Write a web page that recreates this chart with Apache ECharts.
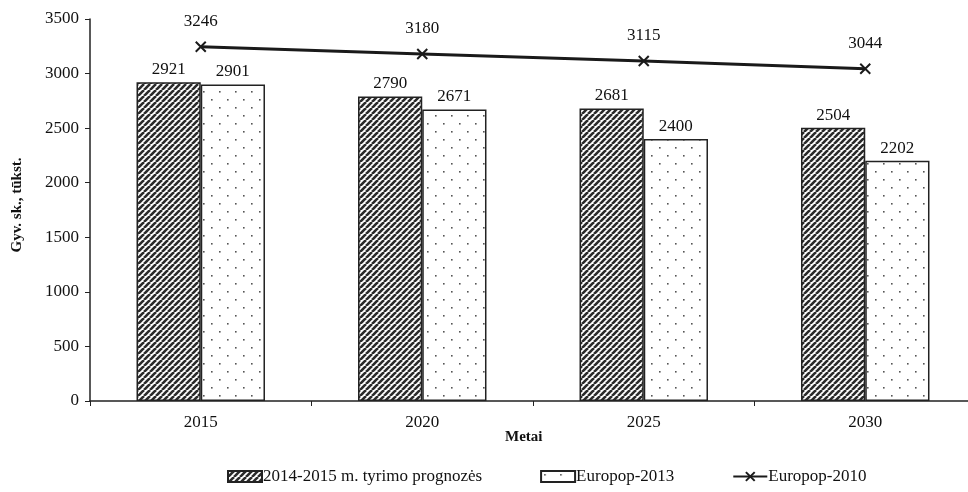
<!DOCTYPE html>
<html><head><meta charset="utf-8">
<script src="https://cdn.jsdelivr.net/npm/echarts@6/dist/echarts.min.js"></script>
<style>html,body{margin:0;padding:0;background:#fff}#c{width:968px;height:492px}</style>
</head><body><div id="c"></div>
<script>
const categories = ['2015', '2020', '2025', '2030'];
const survey = [2921, 2790, 2681, 2504];
const europop2013 = [2901, 2671, 2400, 2202];
const europop2010 = [3246, 3180, 3115, 3044];
const yTicks = [0, 500, 1000, 1500, 2000, 2500, 3000, 3500];

function hatch() {
  const c = document.createElement('canvas');
  c.width = 6; c.height = 6;
  const g = c.getContext('2d');
  g.fillStyle = '#fff'; g.fillRect(0, 0, 6, 6);
  g.strokeStyle = '#2a2a2a'; g.lineWidth = 2.6;
  for (let k = -6; k <= 12; k += 6) {
    g.beginPath(); g.moveTo(k, 6); g.lineTo(k + 6, 0); g.stroke();
  }
  return c;
}
function dots() {
  const c = document.createElement('canvas');
  c.width = 16; c.height = 16;
  const g = c.getContext('2d');
  g.fillStyle = '#fff'; g.fillRect(0, 0, 16, 16);
  g.fillStyle = '#555';
  g.fillRect(3, 3, 1.6, 1.6);
  g.fillRect(11, 11, 1.6, 1.6);
  return c;
}
const font = '"Liberation Serif", "Times New Roman", serif';
const chart = echarts.init(document.getElementById('c'));
chart.setOption({
  backgroundColor: '#fff',
  animation: false,
  textStyle: { fontFamily: font, color: '#111' },
  grid: { left: 90, top: 19, width: 886, height: 382, containLabel: false, outerBoundsMode: 'none' },
  legend: {
    bottom: 2, left: 222, itemWidth: 34, itemHeight: 11, itemGap: 58,
    textStyle: { fontFamily: font, fontSize: 17, color: '#111', padding: [0, 0, 0, -4] },
    data: [
      { name: '2014-2015 m. tyrimo prognozės', icon: 'rect' },
      { name: 'Europop-2013', icon: 'rect' },
      { name: 'Europop-2010' }
    ]
  },
  xAxis: {
    type: 'category', data: categories,
    axisLine: { lineStyle: { color: '#222', width: 1.5 } },
    axisTick: { show: true, length: 5, lineStyle: { color: '#222' } },
    axisLabel: { fontFamily: font, fontSize: 17, color: '#111', margin: 13 },
    splitLine: { show: false }
  },
  yAxis: {
    type: 'value', min: yTicks[0], max: yTicks[yTicks.length - 1], interval: 500,
    axisLine: { show: true, lineStyle: { color: '#222', width: 1.5 } },
    axisTick: { show: true, length: 5, lineStyle: { color: '#222' } },
    axisLabel: { fontFamily: font, fontSize: 17, color: '#111', margin: 11, formatter: v => String(v) },
    splitLine: { show: false }
  },
  graphic: [
    { type: 'text', left: 505, top: 430, style: { text: 'Metai', font: 'bold 15px ' + font, fill: '#111' } },
    { type: 'text', x: 17, y: 205, rotation: Math.PI / 2, originX: 0, originY: 0,
      style: { text: 'Gyv. sk., tūkst.', font: 'bold 15px ' + font, fill: '#111', align: 'center', verticalAlign: 'middle' } }
  ],
  series: [
    {
      name: '2014-2015 m. tyrimo prognozės', type: 'bar', data: survey,
      barGap: '0%', barCategoryGap: '42%',
      itemStyle: { color: { image: hatch(), repeat: 'repeat' }, borderColor: '#222', borderWidth: 1.5 },
      label: { show: true, position: 'top', distance: 4, fontFamily: font, fontSize: 17, color: '#111' }
    },
    {
      name: 'Europop-2013', type: 'bar', data: europop2013,
      itemStyle: { color: { image: dots(), repeat: 'repeat' }, borderColor: '#222', borderWidth: 1.5 },
      label: { show: true, position: 'top', distance: 4, fontFamily: font, fontSize: 17, color: '#111' }
    },
    {
      name: 'Europop-2010', type: 'line', data: europop2010,
      symbol: 'path://M0,0L10,10M10,0L0,10', symbolSize: 10,
      lineStyle: { color: '#1a1a1a', width: 3 },
      itemStyle: { color: 'none', borderColor: '#1a1a1a', borderWidth: 2 },
      label: { show: true, position: 'top', distance: 9, fontFamily: font, fontSize: 17, color: '#111' }
    }
  ]
});
</script></body></html>
